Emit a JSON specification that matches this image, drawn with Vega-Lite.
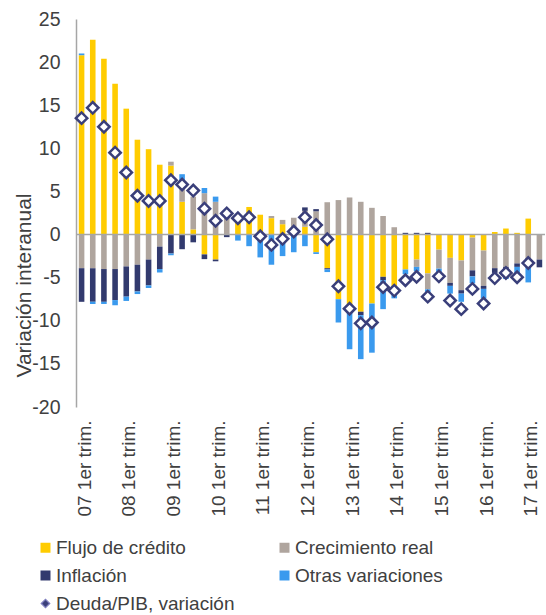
{
  "$schema": "https://vega.github.io/schema/vega-lite/v6.json",
  "width": 469,
  "height": 388,
  "autosize": {"type": "none"},
  "padding": {"left": 76, "top": 19, "right": 1, "bottom": 208},
  "background": "white",
  "config": {"view": {"stroke": null}, "font": "Liberation Sans", "axis": {"grid": false}},
  "data": {"values": [
    {"q": "07 1er trim.", "Flujo de crédito": 20.8, "Crecimiento real": -3.9, "Inflación": -3.9, "Otras variaciones": 0.2, "deuda": 13.5},
    {"q": "07 2º trim.", "Flujo de crédito": 22.6, "Crecimiento real": -3.9, "Inflación": -3.9, "Otras variaciones": -0.25, "deuda": 14.7},
    {"q": "07 3er trim.", "Flujo de crédito": 20.4, "Crecimiento real": -4.0, "Inflación": -3.8, "Otras variaciones": -0.25, "deuda": 12.5},
    {"q": "07 4º trim.", "Flujo de crédito": 17.5, "Crecimiento real": -4.0, "Inflación": -3.6, "Otras variaciones": -0.6, "deuda": 9.5},
    {"q": "08 1er trim.", "Flujo de crédito": 14.6, "Crecimiento real": -3.7, "Inflación": -3.5, "Otras variaciones": -0.5, "deuda": 7.2},
    {"q": "08 2º trim.", "Flujo de crédito": 11.0, "Crecimiento real": -3.5, "Inflación": -3.1, "Otras variaciones": -0.3, "deuda": 4.5},
    {"q": "08 3er trim.", "Flujo de crédito": 9.9, "Crecimiento real": -2.9, "Inflación": -3.0, "Otras variaciones": -0.3, "deuda": 3.9},
    {"q": "08 4º trim.", "Flujo de crédito": 8.1, "Crecimiento real": -1.4, "Inflación": -2.6, "Otras variaciones": -0.4, "deuda": 3.9},
    {"q": "09 1er trim.", "Flujo de crédito": 8.0, "Crecimiento real": 0.45, "Inflación": -2.2, "Otras variaciones": -0.2, "deuda": 6.3},
    {"q": "09 2º trim.", "Flujo de crédito": 3.8, "Crecimiento real": 2.5, "Inflación": -1.7, "Otras variaciones": 0.7, "deuda": 5.8},
    {"q": "09 3er trim.", "Flujo de crédito": 0.6, "Crecimiento real": 3.8, "Inflación": -0.9, "Otras variaciones": 0, "deuda": 5.1},
    {"q": "09 4º trim.", "Flujo de crédito": -2.3, "Crecimiento real": 4.8, "Inflación": -0.55, "Otras variaciones": 0.6, "deuda": 3.0},
    {"q": "10 1er trim.", "Flujo de crédito": -2.9, "Crecimiento real": 3.8, "Inflación": -0.2, "Otras variaciones": 0.6, "deuda": 1.6},
    {"q": "10 2º trim.", "Flujo de crédito": 0, "Crecimiento real": 2.7, "Inflación": -0.3, "Otras variaciones": 0, "deuda": 2.45},
    {"q": "10 3er trim.", "Flujo de crédito": 2.2, "Crecimiento real": 0, "Inflación": 0, "Otras variaciones": -0.7, "deuda": 1.9},
    {"q": "10 4º trim.", "Flujo de crédito": 3.2, "Crecimiento real": 0, "Inflación": 0, "Otras variaciones": -1.35, "deuda": 2.0},
    {"q": "11 1er trim.", "Flujo de crédito": 2.3, "Crecimiento real": 0, "Inflación": 0, "Otras variaciones": -2.65, "deuda": -0.2},
    {"q": "11 2º trim.", "Flujo de crédito": 1.9, "Crecimiento real": 0.25, "Inflación": 0, "Otras variaciones": -3.5, "deuda": -1.2},
    {"q": "11 3er trim.", "Flujo de crédito": 1.2, "Crecimiento real": 0.5, "Inflación": 0, "Otras variaciones": -2.5, "deuda": -0.5},
    {"q": "11 4º trim.", "Flujo de crédito": 0, "Crecimiento real": 1.95, "Inflación": 0, "Otras variaciones": -2.05, "deuda": 0.35},
    {"q": "12 1er trim.", "Flujo de crédito": 0.9, "Crecimiento real": 1.85, "Inflación": 0.4, "Otras variaciones": -1.35, "deuda": 2.0},
    {"q": "12 2º trim.", "Flujo de crédito": -2.05, "Crecimiento real": 2.7, "Inflación": 0.25, "Otras variaciones": -0.2, "deuda": 1.1},
    {"q": "12 3er trim.", "Flujo de crédito": -3.9, "Crecimiento real": 3.75, "Inflación": -0.15, "Otras variaciones": -0.3, "deuda": -0.55},
    {"q": "12 4º trim.", "Flujo de crédito": -7.5, "Crecimiento real": 4.0, "Inflación": 0, "Otras variaciones": -2.7, "deuda": -6.0},
    {"q": "13 1er trim.", "Flujo de crédito": -8.95, "Crecimiento real": 4.3, "Inflación": 0, "Otras variaciones": -4.35, "deuda": -8.6},
    {"q": "13 2º trim.", "Flujo de crédito": -8.95, "Crecimiento real": 3.8, "Inflación": -0.4, "Otras variaciones": -5.1, "deuda": -10.3},
    {"q": "13 3er trim.", "Flujo de crédito": -8.0, "Crecimiento real": 3.1, "Inflación": 0, "Otras variaciones": -5.7, "deuda": -10.2},
    {"q": "13 4º trim.", "Flujo de crédito": -4.9, "Crecimiento real": 2.15, "Inflación": -0.4, "Otras variaciones": -3.35, "deuda": -6.1},
    {"q": "14 1er trim.", "Flujo de crédito": -6.0, "Crecimiento real": 0.85, "Inflación": 0, "Otras variaciones": -1.4, "deuda": -6.5},
    {"q": "14 2º trim.", "Flujo de crédito": -4.05, "Crecimiento real": 0, "Inflación": 0.2, "Otras variaciones": -0.55, "deuda": -5.3},
    {"q": "14 3er trim.", "Flujo de crédito": -2.9, "Crecimiento real": -0.85, "Inflación": 0.2, "Otras variaciones": -0.5, "deuda": -4.9},
    {"q": "14 4º trim.", "Flujo de crédito": -4.5, "Crecimiento real": -1.85, "Inflación": 0.2, "Otras variaciones": -0.3, "deuda": -7.2},
    {"q": "15 1er trim.", "Flujo de crédito": -1.75, "Crecimiento real": -2.2, "Inflación": 0, "Otras variaciones": -0.4, "deuda": -4.85},
    {"q": "15 2º trim.", "Flujo de crédito": -2.7, "Crecimiento real": -2.9, "Inflación": -0.35, "Otras variaciones": -0.9, "deuda": -7.65},
    {"q": "15 3er trim.", "Flujo de crédito": -3.0, "Crecimiento real": -3.45, "Inflación": -0.4, "Otras variaciones": -0.95, "deuda": -8.65},
    {"q": "15 4º trim.", "Flujo de crédito": -0.35, "Crecimiento real": -3.8, "Inflación": -0.7, "Otras variaciones": -0.8, "deuda": -6.3},
    {"q": "16 1er trim.", "Flujo de crédito": -1.85, "Crecimiento real": -4.1, "Inflación": -0.35, "Otras variaciones": -1.1, "deuda": -8.0},
    {"q": "16 2º trim.", "Flujo de crédito": 0.3, "Crecimiento real": -3.9, "Inflación": -0.55, "Otras variaciones": 0, "deuda": -5.05},
    {"q": "16 3er trim.", "Flujo de crédito": 0.7, "Crecimiento real": -3.75, "Inflación": -0.3, "Otras variaciones": -1.1, "deuda": -4.45},
    {"q": "16 4º trim.", "Flujo de crédito": 0.2, "Crecimiento real": -3.35, "Inflación": -0.4, "Otras variaciones": -0.7, "deuda": -4.95},
    {"q": "17 1er trim.", "Flujo de crédito": 1.85, "Crecimiento real": -2.75, "Inflación": -0.2, "Otras variaciones": -2.6, "deuda": -3.3},
    {"q": "17 2º trim.", "Flujo de crédito": 0, "Crecimiento real": -2.9, "Inflación": -0.9, "Otras variaciones": 0, "deuda": null}
  ]},
  "layer": [
    {
      "transform": [
        {"fold": ["Flujo de crédito", "Crecimiento real", "Inflación", "Otras variaciones"], "as": ["serie", "valor"]},
        {"calculate": "indexof(['Flujo de crédito', 'Crecimiento real', 'Inflación', 'Otras variaciones'], datum.serie)", "as": "orden"}
      ],
      "mark": {"type": "bar", "width": {"band": 0.5}},
      "encoding": {
        "x": {"field": "q", "type": "nominal", "sort": null, "scale": {"paddingInner": 0, "paddingOuter": 0},
          "axis": {"title": null, "labelAngle": 270, "labelAlign": "right", "labelBaseline": "middle", "labelPadding": 13, "labelOffset": 3, "ticks": false, "domain": false, "labelFontSize": 19, "labelColor": "#404040", "labelExpr": "indexof(datum.label, '1er') >= 0 ? datum.label : ''", "labelOverlap": false, "labelLimit": 300}},
        "y": {"field": "valor", "type": "quantitative", "stack": "zero", "scale": {"domain": [-20, 25], "nice": false},
          "axis": {"title": "Variación interanual", "values": [-20, -15, -10, -5, 0, 5, 10, 15, 20, 25], "labelExpr": "'' + datum.value", "ticks": false, "labelPadding": 16, "labelFontSize": 19.5, "labelColor": "#404040", "domainColor": "#A6A6A6", "domainWidth": 1.5, "titleFontSize": 21, "titleFontWeight": "normal", "titleColor": "#404040", "titleX": -52, "titleY": 266, "titleAngle": 270, "titleAlign": "center", "titleBaseline": "middle", "labelBaseline": "middle"}},
        "color": {"field": "serie", "type": "nominal",
          "scale": {"domain": ["Flujo de crédito", "Crecimiento real", "Inflación", "Otras variaciones", "Deuda/PIB, variación"], "range": ["#FFCC00", "#AFA59E", "#323A6E", "#3A9AEE", "#3A3F7A"]},
          "legend": {"title": null, "orient": "none", "direction": "horizontal", "legendX": -40, "legendY": 519, "columns": 2, "columnPadding": 40, "rowPadding": 8, "symbolType": "square", "symbolSize": 100, "labelFontSize": 19, "labelColor": "#404040", "labelOffset": 1, "labelLimit": 300, "symbolStrokeWidth": 0,
            "encode": {"symbols": {"update": {
              "shape": {"signal": "datum.value === 'Deuda/PIB, variación' ? 'diamond' : 'square'"},
              "size": {"signal": "datum.value === 'Deuda/PIB, variación' ? 70 : 100"},
              "fill": {"signal": "datum.value === 'Deuda/PIB, variación' ? '#ffffff' : scale('color', datum.value)"},
              "stroke": {"signal": "datum.value === 'Deuda/PIB, variación' ? '#7F7FBF' : 'transparent'"},
              "strokeWidth": {"signal": "datum.value === 'Deuda/PIB, variación' ? 1.3 : 0"}
            }}}}
        },
        "order": {"field": "orden", "type": "quantitative", "sort": "ascending"}
      }
    },
    {
      "data": {"values": [{}]},
      "mark": {"type": "rule", "color": "#A6A6A6", "strokeWidth": 1.5},
      "encoding": {"y": {"datum": 0}}
    },
    {
      "mark": {"type": "point", "shape": "diamond", "filled": true, "fill": "#ffffff", "stroke": "#3A3F7A", "strokeWidth": 2.5, "size": 130, "opacity": 1},
      "encoding": {
        "x": {"field": "q", "type": "nominal", "sort": null},
        "y": {"field": "deuda", "type": "quantitative",
          "axis": {"title": "Variación interanual", "values": [-20, -15, -10, -5, 0, 5, 10, 15, 20, 25], "labelExpr": "'' + datum.value", "ticks": false, "labelPadding": 16, "labelFontSize": 19.5, "labelColor": "#404040", "domainColor": "#A6A6A6", "domainWidth": 1.5, "titleFontSize": 21, "titleFontWeight": "normal", "titleColor": "#404040", "titleX": -52, "titleY": 266, "titleAngle": 270, "titleAlign": "center", "titleBaseline": "middle", "labelBaseline": "middle"}}
      }
    }
  ]
}
